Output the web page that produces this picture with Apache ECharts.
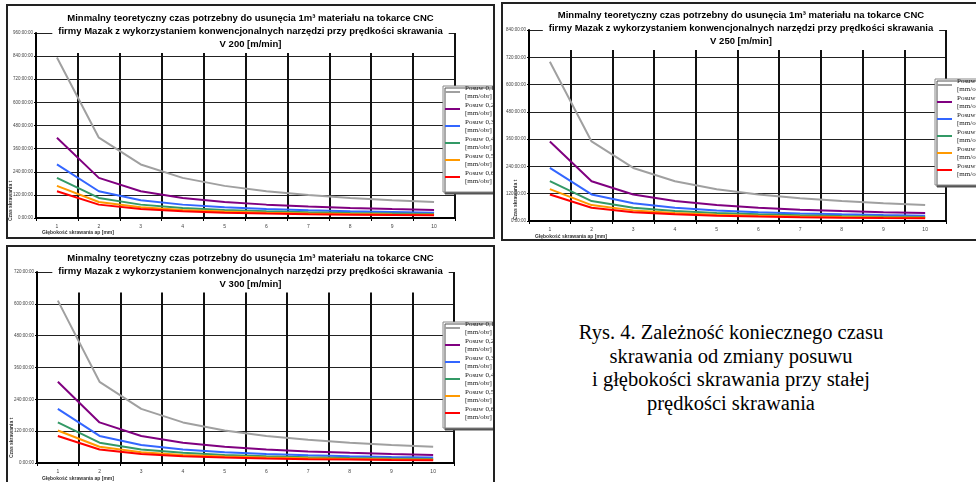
<!DOCTYPE html>
<html>
<head>
<meta charset="utf-8">
<script src="https://cdn.jsdelivr.net/npm/echarts@6/dist/echarts.min.js"></script>
<style>
  body { margin: 0; width: 976px; height: 482px; position: relative; overflow: hidden; background: #fff; }
  .box { position: absolute; border: 2px solid #222; box-sizing: border-box; background: #fff; }
  .box .chart { width: 100%; height: 100%; }
  .caption {
    position: absolute; left: 536px; top: 321px; width: 390px;
    font-family: 'Liberation Serif', serif; font-size: 20.5px; line-height: 23.5px;
    text-align: center; color: #000;
  }
</style>
</head>
<body>
<div class="box" style="left:6px;top:4px;width:489px;height:235px"><div class="chart" id="c200"></div></div>
<div class="box" style="left:501px;top:2px;width:480px;height:239px"><div class="chart" id="c250"></div></div>
<div class="box" style="left:6px;top:245px;width:489px;height:240px"><div class="chart" id="c300"></div></div>
<div class="caption">Rys. 4. Zależność koniecznego czasu<br>skrawania od zmiany posuwu<br>i głębokości skrawania przy stałej<br>prędkości skrawania</div>

<script>
  // glebokosc skrawania ap [mm]
  const categories = ['1', '2', '3', '4', '5', '6', '7', '8', '9', '10']
  const seriesNames = ['Posuw 0,1', 'Posuw 0,2', 'Posuw 0,3', 'Posuw 0,4', 'Posuw 0,5', 'Posuw 0,6']
  const colors = ['#a0a0a0', '#800080', '#3366ff', '#339966', '#ff9900', '#ff0000']

  // czas skrawania [h], V 200 m/min
  const v200f01 = [833.3, 416.7, 277.8, 208.3, 166.7, 138.9, 119.0, 104.2, 92.6, 83.3]
  const v200f02 = [416.7, 208.3, 138.9, 104.2, 83.3, 69.4, 59.5, 52.1, 46.3, 41.7]
  const v200f03 = [277.8, 138.9, 92.6, 69.4, 55.6, 46.3, 39.7, 34.7, 30.9, 27.8]
  const v200f04 = [208.3, 104.2, 69.4, 52.1, 41.7, 34.7, 29.8, 26.0, 23.1, 20.8]
  const v200f05 = [166.7, 83.3, 55.6, 41.7, 33.3, 27.8, 23.8, 20.8, 18.5, 16.7]
  const v200f06 = [138.9, 69.4, 46.3, 34.7, 27.8, 23.1, 19.8, 17.4, 15.4, 13.9]

  // V 250 m/min
  const v250f01 = [700, 350, 233.3, 175, 140, 116.7, 100, 87.5, 77.8, 70]
  const v250f02 = [350, 175, 116.7, 87.5, 70, 58.3, 50, 43.8, 38.9, 35]
  const v250f03 = [233.3, 116.7, 77.8, 58.3, 46.7, 38.9, 33.3, 29.2, 25.9, 23.3]
  const v250f04 = [175, 87.5, 58.3, 43.8, 35, 29.2, 25, 21.9, 19.4, 17.5]
  const v250f05 = [140, 70, 46.7, 35, 28, 23.3, 20, 17.5, 15.6, 14]
  const v250f06 = [116.7, 58.3, 38.9, 29.2, 23.3, 19.4, 16.7, 14.6, 13, 11.7]

  // V 300 m/min
  const v300f01 = [612, 306, 204, 153, 122.4, 102, 87.4, 76.5, 68, 61.2]
  const v300f02 = [306, 153, 102, 76.5, 61.2, 51, 43.7, 38.3, 34, 30.6]
  const v300f03 = [204, 102, 68, 51, 40.8, 34, 29.1, 25.5, 22.7, 20.4]
  const v300f04 = [153, 76.5, 51, 38.3, 30.6, 25.5, 21.9, 19.1, 17, 15.3]
  const v300f05 = [122.4, 61.2, 40.8, 30.6, 24.5, 20.4, 17.5, 15.3, 13.6, 12.2]
  const v300f06 = [102, 51, 34, 25.5, 20.4, 17, 14.6, 12.8, 11.3, 10.2]

  // os Y: 0 .. max co 120 h, etykiety hhh:00:00
  const yMax200 = 960
  const yMax250 = 840
  const yMax300 = 720
  const yStep = 120

  const titleBase = 'Minmalny teoretyczny czas potrzebny do usunęcia 1m³ materiału na tokarce CNC\n' +
    'firmy Mazak z wykorzystaniem konwencjonalnych narzędzi przy prędkości skrawania\n'

  function getSeries (arrs) {
    let series = []
    for (let i = 0; i < arrs.length; i++) {
      series.push({
        name: seriesNames[i],
        type: 'line',
        data: arrs[i],
        symbol: 'none',
        lineStyle: { color: colors[i], width: 2 },
        itemStyle: { color: colors[i] },
      })
    }
    return series
  }

  function makeOption (cfg) {
    return {
      animation: false,
      title: {
        text: titleBase + cfg.speed,
        left: 'center',
        top: cfg.titleTop,
        backgroundColor: '#fff',
        padding: [3, 6, 2, 6],
        textStyle: {
          fontFamily: 'Liberation Sans', fontSize: 9.5, fontWeight: 'bold',
          lineHeight: 13, color: '#000',
        },
      },
      legend: {
        orient: 'vertical',
        left: cfg.legendLeft,
        top: cfg.legendTop,
        data: seriesNames,
        formatter: n => n + '\n[mm/obr]',
        selectedMode: false,
        icon: 'rect',
        itemWidth: 15,
        itemHeight: 2,
        itemGap: -7,
        padding: [-6, 3, 3, 2],
        backgroundColor: '#fff',
        borderColor: '#888',
        borderWidth: 1,
        shadowColor: '#555',
        shadowOffsetX: 2,
        shadowOffsetY: 2,
        shadowBlur: 0,
        textStyle: {
          fontFamily: 'Liberation Serif', fontSize: 7, lineHeight: 8,
          color: '#222', padding: [8, 0, 0, 0],
        },
      },
      grid: cfg.grid,
      xAxis: {
        type: 'category',
        data: categories,
        boundaryGap: true,
        axisLine: { lineStyle: { color: '#000', width: 2 } },
        axisTick: { show: true, length: 3, lineStyle: { color: '#000' } },
        axisLabel: { fontFamily: 'Liberation Sans', fontSize: 5, color: '#444', margin: 6 },
        splitLine: { show: true, lineStyle: { color: '#111', width: 2 } },
      },
      yAxis: {
        type: 'value',
        min: 0,
        max: cfg.yMax,
        interval: yStep,
        axisLine: { show: true, lineStyle: { color: '#000', width: 2 } },
        axisTick: { show: true, length: 2, lineStyle: { color: '#000' } },
        axisLabel: {
          formatter: v => v + ':00:00',
          fontFamily: 'Liberation Sans', fontSize: 4.5, color: '#444', margin: 3,
        },
        splitLine: { show: true, lineStyle: { color: '#222', width: 1.2 } },
      },
      graphic: [
        {
          type: 'text', x: cfg.yName[0], y: cfg.yName[1], rotation: Math.PI / 2,
          style: {
            text: 'Czas skrawania t', fontFamily: 'Liberation Sans', fontSize: 5,
            fontWeight: 'bold', fill: '#333', align: 'left', verticalAlign: 'middle',
          },
        },
        {
          type: 'text', x: cfg.xName[0], y: cfg.xName[1],
          style: {
            text: 'Głębokość skrawania ap [mm]', fontFamily: 'Liberation Sans', fontSize: 5,
            fontWeight: 'bold', fill: '#333', align: 'left', verticalAlign: 'middle',
          },
        },
      ],
      series: getSeries(cfg.data),
    }
  }

  echarts.init(document.getElementById('c200')).setOption(makeOption({
    speed: 'V 200 [m/min]',
    yMax: yMax200,
    titleTop: 3,
    grid: { left: 28, right: 38, top: 27, bottom: 19 },
    legendLeft: 435, legendTop: 80,
    yName: [3, 215], xName: [34, 227],
    data: [v200f01, v200f02, v200f03, v200f04, v200f05, v200f06],
  }))

  echarts.init(document.getElementById('c250')).setOption(makeOption({
    speed: 'V 250 [m/min]',
    yMax: yMax250,
    titleTop: 2,
    grid: { left: 26, right: 33, top: 26, bottom: 18 },
    legendLeft: 432, legendTop: 75,
    yName: [13, 216], xName: [32, 233],
    data: [v250f01, v250f02, v250f03, v250f04, v250f05, v250f06],
  }))

  echarts.init(document.getElementById('c300')).setOption(makeOption({
    speed: 'V 300 [m/min]',
    yMax: yMax300,
    titleTop: 1.5,
    grid: { left: 29, right: 39, top: 25, bottom: 20 },
    legendLeft: 435, legendTop: 75,
    yName: [4, 211], xName: [34, 232],
    data: [v300f01, v300f02, v300f03, v300f04, v300f05, v300f06],
  }))
</script>
</body>
</html>
